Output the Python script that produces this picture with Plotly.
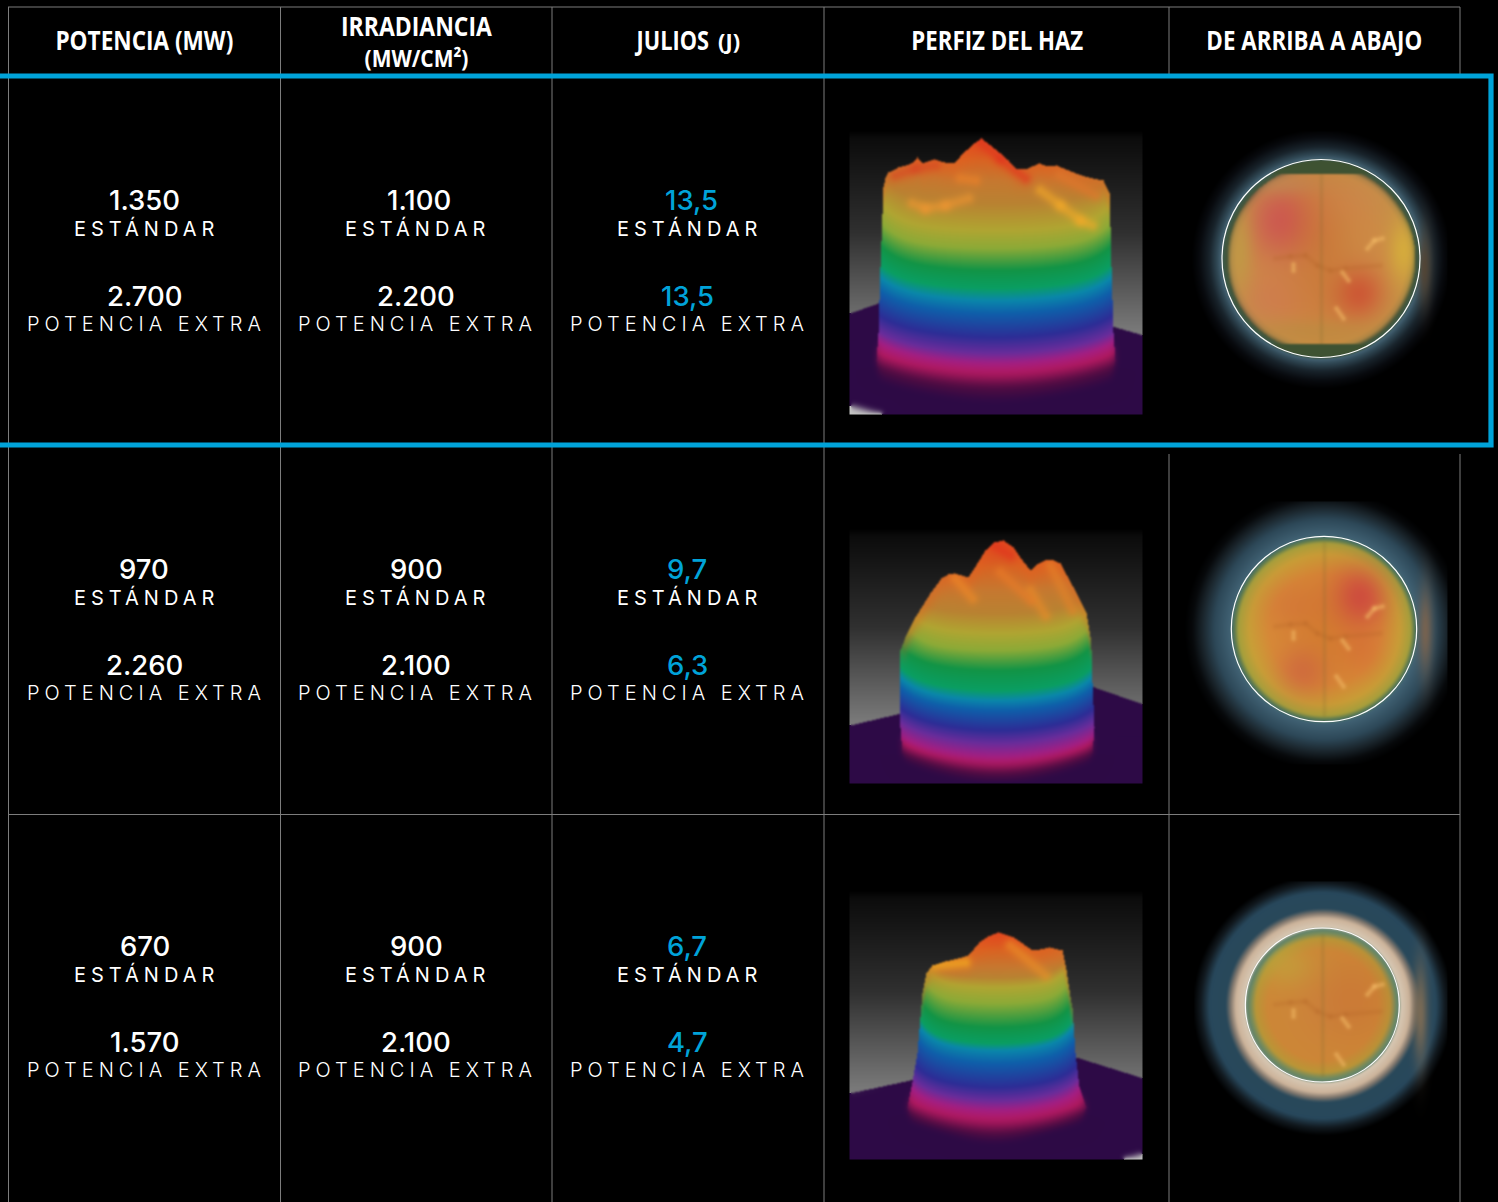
import numpy as np
import plotly.graph_objects as go

# ---------- table content ----------
headers = ["POTENCIA (MW)", "IRRADIANCIA", "JULIOS", "(J)", "PERFIZ DEL HAZ", "DE ARRIBA A ABAJO"]
irradiance_unit = "(MW/CM²)"
label_standard = "ESTÁNDAR"
label_extra = "POTENCIA EXTRA"
power_standard = ["1.350", "970", "670"]
power_extra = ["2.700", "2.260", "1.570"]
irradiance_standard = ["1.100", "900", "900"]
irradiance_extra = ["2.200", "2.100", "2.100"]
joules_standard = ["13,5", "9,7", "6,7"]
joules_extra = ["13,5", "6,3", "4,7"]

# ---------- beam profile outlines and colour bands ----------
band_colours = [(222,55,30),(215,100,35),(198,120,48),(185,130,50),(176,165,50),(140,170,55),
                (18,148,70),(10,158,98),(10,135,170),(15,95,170),(45,45,150),(105,45,155),
                (165,30,130),(178,25,95),(80,12,66),(45,10,70)]
band_y = [[138,160,180,203,230,248,270,288,300,313,337,353,363,373,387,402],
          [540,567,590,613,633,650,670,690,700,710,730,743,757,763,773,783],
          [932,950,967,977,987,1003,1027,1043,1050,1063,1087,1100,1110,1120,1133,1143]]
crest_x = [[883,885,888,893,898,906,913,917,922,928,934,944,954,960,966,974,981,990,1000,1008,1015,1026,1032,1039,1047,1056,1068,1081,1092,1103,1109],
           [905,915,930,941,948,954,961,968,977,985,994,1003,1013,1022,1030,1037,1045,1053,1060,1073,1086,1090],
           [922,926,932,945,958,968,979,988,998,1013,1022,1032,1040,1049,1062,1066,1071]]
crest_y = [[187,178,172,170,167,165,162,157,163,161,159,162,163,156,150,143,138,145,153,160,168,169,166,163,166,165,170,175,178,180,193],
           [637,617,593,578,574,573,575,577,563,550,542,540,547,560,570,564,560,560,563,587,613,637],
           [993,973,965,961,958,955,942,936,932,937,943,950,949,947,950,970,1003]]
side_y = [[187,267,333,360,385,402],[637,650,683,727,753,777],[993,1053,1087,1107,1123,1135]]
side_left = [[883,880,878,876,880,895],[905,900,900,900,902,912],[922,917,911,907,911,926]]
side_right = [[1109,1111,1113,1115,1110,1095],[1090,1091,1092,1094,1092,1082],[1071,1075,1079,1086,1080,1062]]
plane_x = [[850,878,1000,1115,1143],[850,905,1000,1094,1143],[850,910,1000,1079,1143]]
plane_y = [[313,303,270,327,335],[725,712,670,687,704],[1093,1080,1040,1058,1078]]
corner_line = [(850,405,885,415), None, (1120,1160,1143,1153)]
beam_box = [(850,130,1143,415),(850,528,1143,784),(850,890,1143,1160)]
beam_strokes = [
    [([(981,142),(1000,158),(1025,178)],(225,50,30)),([(895,175),(915,168),(935,165)],(215,70,35)),
     ([(960,178),(975,180)],(240,130,40)),([(912,203),(925,208),(945,205),(968,198)],(240,150,50)),
     ([(1040,190),(1060,205),(1080,220),(1092,225)],(245,170,40)),([(1060,175),(1095,195)],(225,120,45))],
    [([(955,578),(972,598)],(240,140,40)),([(1030,590),(1045,615)],(235,140,40)),([(1000,572),(1030,600)],(235,125,40)),
     ([(1050,565),(1072,610)],(230,130,40)),([(994,545),(1010,555)],(225,50,30))],
    [([(935,965),(965,962)],(250,185,30)),([(1010,945),(1045,975)],(235,145,40))],
]

# ---------- top-down spot, radial colours ----------
disc_centre = [(1321,258.5),(1324,629),(1322.3,1005)]
disc_radius = [99,92.7,77]
disc_box = [(1188,132,1448,392),(1182,502,1448,765),(1195,882,1448,1142)]
disc_cap = [85,None,None]
radial_d = [[0,60,85,90,94,99,100,104,112,122,130],
            [0,55,75,86,90,93,94,110,122,132,140],
            [0,55,67,72,76,78,87,92,97,113,122,130]]
radial_c = [[(205,140,75),(205,140,70),(198,145,70),(170,135,70),(70,85,55),(60,90,75),(70,100,118),
             (50,75,88),(25,36,44),(8,10,14),(0,0,0)],
            [(215,135,50),(215,140,55),(200,160,55),(165,160,60),(90,120,80),(70,110,110),(65,98,116),
             (45,72,88),(27,38,45),(7,9,11),(0,0,0)],
            [(205,135,60),(205,135,55),(185,150,55),(120,140,90),(95,130,110),(215,200,180),(205,180,155),
             (130,120,110),(40,72,90),(40,72,92),(18,26,32),(0,0,0)]]
disc_spots = [
    [(1283,220,25,28,(205,80,85),.85),(1357,293,18,18,(205,70,50),.75),(1270,300,30,22,(210,115,85),.5),
     (1321,250,25,60,(200,110,40),.45),(1403,250,10,22,(215,175,60),.85),(1240,250,8,30,(190,160,70),.6),
     (1310,330,40,8,(185,140,65),.5),(1277,183,30,8,(190,140,85),.5),(1355,195,28,20,(205,130,80),.4)],
    [(1358,597,20,22,(205,65,65),.85),(1303,670,18,18,(205,90,70),.6),(1295,605,25,20,(210,100,60),.4),
     (1360,650,18,20,(215,95,55),.4),(1324,630,22,50,(205,115,40),.3)],
    [(1350,1000,30,30,(200,105,50),.4),(1285,965,20,15,(190,170,60),.5)],
]
# the same retina features recur lower down in the other two rows
feature_shift = [0, 368, 746]
vessel_points = [(1275,258),(1290,256),(1305,255),(1317,265),(1330,270),(1345,268),(1380,265)]
bright_marks = [[(1293,264),(1293,270)],[(1342,272),(1348,280)],[(1336,308),(1343,318)],
                [(1367,248),(1374,240),(1382,238)]]
side_glow = [(1424,267,5,26,(85,68,50)),(1425,630,5,30,(125,100,78)),(1420,1013,5,34,(130,110,85))]

# ---------- layout constants ----------
W, H = 1498, 1202
BLUE = "#00A3D9"
GREY = "#7d7d7d"
col_centres = [144.5, 416, 688]
text_rows = [(200,228,296,324),(569,597,665,693),(946,974,1042,1070)]
number_dx = [[[0,3,3],[0,0,-1]],[[-1,0,-1],[0,0,-1]],[[0,0,-1],[0,0,-1]]]


def ramp(v, xs, cols):
    cols = np.array(cols, dtype=float)
    return np.stack([np.interp(v, xs, cols[:, k]) for k in range(3)], axis=-1)


def soften(a, passes=1):
    base = a
    for _ in range(passes):
        out = a.copy()
        for ax in (0, 1):
            out = (np.roll(out, 1, ax) + 2*out + np.roll(out, -1, ax)) / 4
        out[0], out[-1], out[:, 0], out[:, -1] = base[0], base[-1], base[:, 0], base[:, -1]
        a = out
    return a


def stroke_on(img, xs, ys, pts, col, alpha, spread, mask):
    for (ax, ay), (bx, by) in zip(pts[:-1], pts[1:]):
        dx, dy = bx-ax, by-ay
        t = np.clip(((xs-ax)*dx + (ys-ay)*dy) / (dx*dx+dy*dy), 0, 1)
        dist2 = (xs-ax-t*dx)**2 + (ys-ay-t*dy)**2
        mix = (alpha*np.exp(-dist2/spread) * mask)[..., None]
        img = img*(1-mix) + np.array(col)*mix
    return img


def beam_picture(i):
    x0, y0, x1, y1 = beam_box[i]
    xs, ys = np.meshgrid(np.arange(x0, x1), np.arange(y0, y1))
    horizon = max(plane_y[i])
    grey = np.interp(ys, [y0, y0+8, (y0+horizon)/2, horizon], [0, 12, 48, 125])
    img = np.stack([grey, grey, grey], axis=-1)
    back = np.interp(xs, plane_x[i], plane_y[i])
    img[ys >= back] = np.array(band_colours[-1], dtype=float)
    if corner_line[i]:
        a, b, c, d = corner_line[i]
        img[ys > b + (xs-a)*(d-b)/(c-a)] = (195, 195, 195)
    top = np.interp(xs, crest_x[i], crest_y[i])
    left = np.interp(ys, side_y[i], side_left[i])
    right = np.interp(ys, side_y[i], side_right[i])
    inside = (ys >= top) & (xs >= left) & (xs <= right)
    cx = (left + right) / 2
    hw = np.maximum((right - left) / 2, 1)
    u = np.clip((xs - cx) / hw, -1, 1)
    span = [band_y[i][0], band_y[i][-1]]
    s_round = np.interp(ys, span, [3, 20])
    s_rim = np.interp(ys, span, [24, 0])
    colour = ramp(ys + s_round*u*u + s_rim*u**6, band_y[i], band_colours)
    depth = ys - top
    mix = (0.4*np.exp(-(depth/16.0)**2))[..., None]
    colour = colour*(1-mix) + np.array((232, 95, 30))*mix
    img[inside] = colour[inside]
    for stroke, col in beam_strokes[i]:
        img = stroke_on(img, xs, ys, stroke, col, 0.55, 35, inside)
    sharp = soften(img, 2)
    wide = soften(img, 22)
    w = np.clip((ys - band_y[i][-6]) / (band_y[i][-3] - band_y[i][-6]), 0, 1)[..., None]
    img = sharp*(1-w) + wide*w
    return x0, y0, np.clip(img, 0, 255).astype(np.uint8)


def disc_picture(i):
    x0, y0, x1, y1 = disc_box[i]
    cx, cy = disc_centre[i]
    xs, ys = np.meshgrid(np.arange(x0, x1), np.arange(y0, y1))
    d = np.hypot(xs-cx, ys-cy)
    img = ramp(d, radial_d[i], radial_c[i])
    inner = d < disc_radius[i] - 5
    if disc_cap[i]:
        outer = (np.abs(ys-cy) > disc_cap[i]) & (d < disc_radius[i])
        img[outer] = (62, 82, 50)
        inner &= ~outer
    for sx, sy, wx, wy, col, alpha in disc_spots[i]:
        mix = (alpha*np.exp(-((xs-sx)/wx)**2/2 - ((ys-sy)/wy)**2/2) * inner)[..., None]
        img = img*(1-mix) + np.array(col)*mix
    shift = feature_shift[i]
    img = stroke_on(img, xs, ys, [(a, b+shift) for a, b in vessel_points], (175, 95, 35), 0.2, 8, inner)
    for mark in bright_marks:
        img = stroke_on(img, xs, ys, [(a, b+shift) for a, b in mark], (242, 185, 100), 0.55, 7, inner)
    mix = (0.18*np.exp(-((xs-cx)/1.5)**2/2) * inner)[..., None]
    img = img*(1-mix) + np.array((120, 105, 45))*mix
    sx, sy, wx, wy, col = side_glow[i]
    mix = (0.9*np.exp(-((xs-sx)/wx)**2/2 - ((ys-sy)/wy)**2/2) * (d > disc_radius[i]))[..., None]
    img = img*(1-mix) + np.array(col)*mix
    return x0, y0, np.clip(soften(img, 2), 0, 255).astype(np.uint8)


fig = go.Figure()
for i in range(3):
    for make in (beam_picture, disc_picture):
        px, py, arr = make(i)
        fig.add_trace(go.Image(z=arr, x0=px, y0=py, dx=1, dy=1, hoverinfo="skip"))


def line(x0, y0, x1, y1, colour=GREY, width=1):
    return dict(type="line", x0=x0, y0=y0, x1=x1, y1=y1, layer="above",
                line=dict(color=colour, width=width))


shapes = [line(8, 7, 1460, 7), line(8, 814.5, 1460, 814.5)]
for x in (8.5, 280.5, 552, 824):
    shapes.append(line(x, 7, x, H))
for x in (1169, 1460):
    shapes.append(line(x, 7, x, 75))
    shapes.append(line(x, 454, x, H))
# highlighted first row
shapes.append(dict(type="rect", x0=-10, x1=1491, y0=76, y1=445, layer="above",
                   line=dict(color=BLUE, width=5.2), fillcolor="rgba(0,0,0,0)"))
for i in range(3):
    cx, cy = disc_centre[i]
    r = disc_radius[i]
    shapes.append(dict(type="circle", x0=cx-r, x1=cx+r, y0=cy-r, y1=cy+r, layer="above",
                       line=dict(color="white", width=1.2), fillcolor="rgba(0,0,0,0)"))

annotations = []


def put(text, x, y, size, colour="white", family="Inter", weight=None):
    annotations.append(dict(text=text, x=x, y=y, xref="x", yref="y", showarrow=False,
                            xanchor="center", yanchor="middle",
                            font=dict(family=family, size=size, color=colour, weight=weight)))


HEAD = "Open Sans"
put(headers[0], 144, 39, 27, family=HEAD, weight=700)
put(headers[1], 416, 25.5, 26, family=HEAD, weight=700)
put(irradiance_unit, 416, 57, 24, family=HEAD, weight=700)
put(headers[2], 672, 39, 27, family=HEAD, weight=700)
put(headers[3], 728.5, 40, 22, family=HEAD, weight=700)
put(headers[4], 997, 39, 27, family=HEAD, weight=700)
put(headers[5], 1314, 39, 27, family=HEAD, weight=700)

number_columns = [(power_standard, power_extra, "white"),
                  (irradiance_standard, irradiance_extra, "white"),
                  (joules_standard, joules_extra, BLUE)]
for r, (y_a, y_b, y_c, y_d) in enumerate(text_rows):
    for c, (std, ext, colour) in enumerate(number_columns):
        put(std[r], col_centres[c] + number_dx[r][0][c], y_a, 27.5, colour, weight=500)
        put(label_standard, col_centres[c] + 1.5, y_b, 20, weight=400)
        put(ext[r], col_centres[c] + number_dx[r][1][c], y_c, 27.5, colour, weight=500)
        put(label_extra, col_centres[c] + 1.5, y_d, 20, weight=300)

hidden = dict(visible=False, showgrid=False, zeroline=False)
fig.update_layout(width=W, height=H, margin=dict(l=0, r=0, t=0, b=0),
                  paper_bgcolor="black", plot_bgcolor="black", showlegend=False,
                  xaxis=dict(range=[0, W], **hidden),
                  yaxis=dict(range=[H, 0], **hidden),
                  shapes=shapes, annotations=annotations)

post = """
document.documentElement.style.background='black';
document.body.style.margin='0';
document.body.style.overflow='hidden';
var gd=document.getElementsByClassName('plotly-graph-div')[0];
var headerWidth={'POTENCIA (MW)':178,'IRRADIANCIA':151,'(MW/CM²)':104,'JULIOS':74,'(J)':22,'PERFIZ DEL HAZ':172,'DE ARRIBA A ABAJO':216};
function spacing(){
  document.querySelectorAll('.annotation-text').forEach(function(t){
    var s=t.textContent;
    if(s==='ESTÁNDAR'||s==='POTENCIA EXTRA') t.style.letterSpacing='5px';
    if(headerWidth[s]){
      var b=t.getBBox(), c=b.x+b.width/2, k=headerWidth[s]/b.width;
      t.setAttribute('transform','translate('+c+' 0) scale('+k+' 1) translate('+(-c)+' 0)');
    }
  });
}
spacing(); if(gd.on) gd.on('plotly_afterplot',spacing);
"""
fig.write_html("out.html", post_script=post, config=dict(displayModeBar=False))
